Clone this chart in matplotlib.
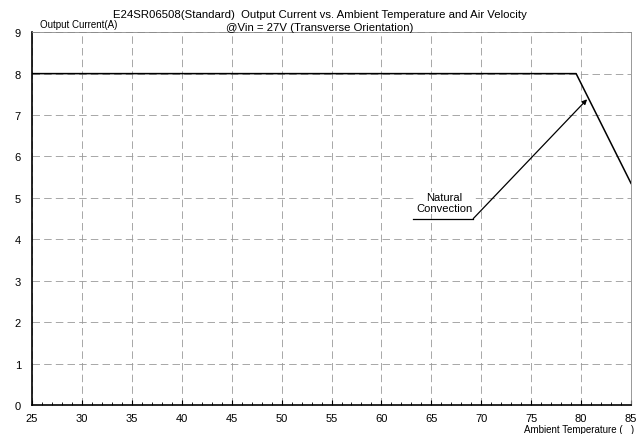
import numpy as np
import matplotlib.pyplot as plt

plt.rcParams['font.family'] = ['Liberation Sans', 'DejaVu Sans']

# derating curve (natural convection)
temp = [25, 79.5, 85]
current = [8, 8, 5.35]

x_ticks = list(range(25, 90, 5))
y_ticks = list(range(0, 10))

fig = plt.figure(figsize=(6.4, 4.35), dpi=100)
ax = fig.add_axes([0.05, 0.0667, 0.936, 0.857])

ax.plot(temp, current, color='black', linewidth=1.1)

ax.set_xlim(25, 85)
ax.set_ylim(0, 9)
ax.set_xticks(x_ticks)
ax.set_yticks(y_ticks)
ax.set_xticks(np.arange(25, 86, 1), minor=True)
ax.grid(True, which='major', color='#999999', linestyle=(0, (9, 5)), linewidth=0.6)
ax.tick_params(axis='x', which='major', direction='in', length=3.5, pad=6, labelsize=8)
ax.tick_params(axis='x', which='minor', direction='in', length=2)
ax.tick_params(axis='y', direction='out', length=0, pad=8, labelsize=8)

for s in ['left', 'bottom']:
    ax.spines[s].set_linewidth(1.2)
for s in ['top', 'right']:
    ax.spines[s].set_color('#888888')
    ax.spines[s].set_linewidth(0.6)

# annotation
ax.plot([63.2, 69.2], [4.5, 4.5], color='black', linewidth=0.9)
ax.annotate('', xy=(80.6, 7.38), xytext=(69.2, 4.5),
            arrowprops=dict(arrowstyle='-|>', color='black', lw=0.9,
                            mutation_scale=7, shrinkA=0, shrinkB=0))
ax.text(66.3, 4.88, 'Natural\nConvection', ha='center', va='center',
        fontsize=8, linespacing=1.1,
        bbox=dict(facecolor='white', edgecolor='none', pad=0.5))

fig.text(0.5, 0.966, 'E24SR06508(Standard)  Output Current vs. Ambient Temperature and Air Velocity',
         ha='center', va='center', fontsize=8.2)
fig.text(0.5, 0.936, '@Vin = 27V (Transverse Orientation)', ha='center', va='center', fontsize=8.2)
fig.text(0.0625, 0.943, 'Output Current(A)', ha='left', va='center', fontsize=7)
fig.text(0.991, 0.012, 'Ambient Temperature (   )', ha='right', va='center', fontsize=7)

fig.savefig('out.png', dpi=100)
